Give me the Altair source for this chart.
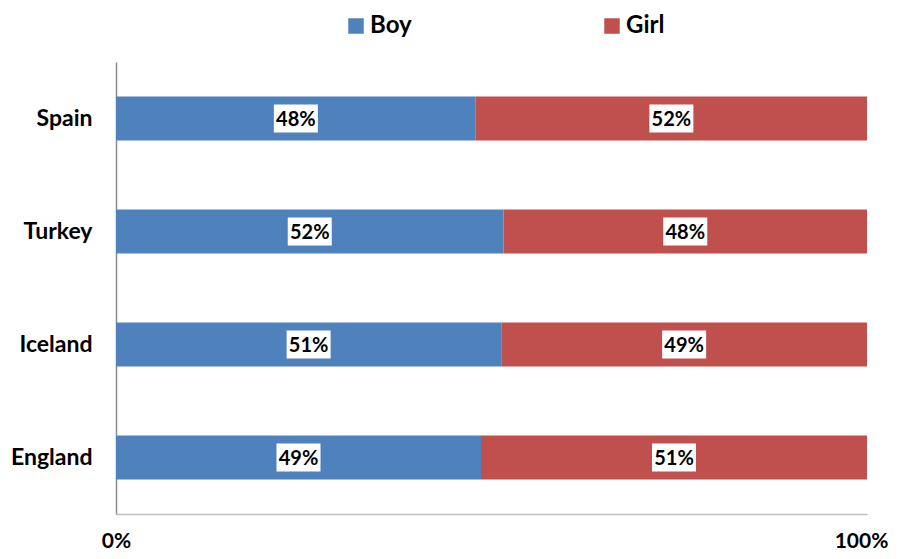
import altair as alt
import pandas as pd

countries = ["Spain", "Turkey", "Iceland", "England"]
boy = [47.9, 51.6, 51.3, 48.6]
girl = [52.1, 48.4, 48.7, 51.4]
genders = ["Boy", "Girl"]
colors = ["#4F81BD", "#C0504D"]

rows = []
for c, b, g in zip(countries, boy, girl):
    rows.append({"country": c, "gender": "Boy", "order": 0, "value": b})
    rows.append({"country": c, "gender": "Girl", "order": 1, "value": g})
df = pd.DataFrame(rows)

FONT = "Lato"
HALF_BOX = 0.0293

base = alt.Chart(df).transform_stack(
    stack="value",
    groupby=["country"],
    as_=["v0", "v1"],
    offset="normalize",
    sort=[alt.SortField("order", order="ascending")],
).transform_calculate(
    mid="(datum.v0 + datum.v1) / 2",
    lo="(datum.v0 + datum.v1) / 2 - %f" % HALF_BOX,
    hi="(datum.v0 + datum.v1) / 2 + %f" % HALF_BOX,
    label="format(datum.v1 - datum.v0, '.0%')",
)

y_enc = alt.Y(
    "country:N",
    sort=countries,
    title=None,
    scale=alt.Scale(paddingInner=0.61, paddingOuter=0.305),
    axis=alt.Axis(
        labelFont=FONT, labelFontSize=23, labelFontWeight="bold", labelColor="black",
        labelPadding=24, ticks=False, domainColor="#8C8C8C", domainWidth=1.5,
    ),
)

bars = base.mark_bar(size=44).encode(
    x=alt.X(
        "v0:Q",
        scale=alt.Scale(domain=[0, 1], nice=False),
        title=None,
        axis=alt.Axis(
            values=[0, 1], format=".0%", labelFont=FONT, labelFontSize=21,
            labelFontWeight="bold", labelColor="black", labelPadding=16,
            labelOffset={"condition": {"test": "datum.value == 1", "value": -6}, "value": 0},
            labelFlush=False, ticks=False, grid=False,
            domainColor="#BFBFBF", domainWidth=1.5,
        ),
    ),
    x2="v1:Q",
    y=y_enc,
    color=alt.Color(
        "gender:N",
        scale=alt.Scale(domain=genders, range=colors),
        legend=alt.Legend(
            title=None, orient="none", legendX=228, legendY=-48,
            direction="horizontal", symbolType="square", symbolSize=240,
            symbolStrokeWidth=0, symbolOpacity=1,
            labelFont=FONT, labelFontSize=24, labelFontWeight="bold",
            labelColor="black", columnPadding=188, labelOffset=2,
        ),
    ),
)

boxes = base.mark_bar(size=28, color="white").encode(
    x="lo:Q", x2="hi:Q", y=alt.Y("country:N", sort=countries)
)

texts = base.mark_text(
    font=FONT, fontSize=20, fontWeight="bold", color="black", baseline="middle", dy=1
).encode(
    x="mid:Q", y=alt.Y("country:N", sort=countries), text="label:N"
)

chart = alt.layer(bars, boxes, texts).properties(
    width=751, height=452,
    autosize=alt.AutoSizeParams(type="none"),
    padding={"left": 108, "top": 54, "right": 24, "bottom": 37},
).configure_view(stroke=None)

chart.save("out.html", embed_options={"renderer": "svg", "actions": False})
